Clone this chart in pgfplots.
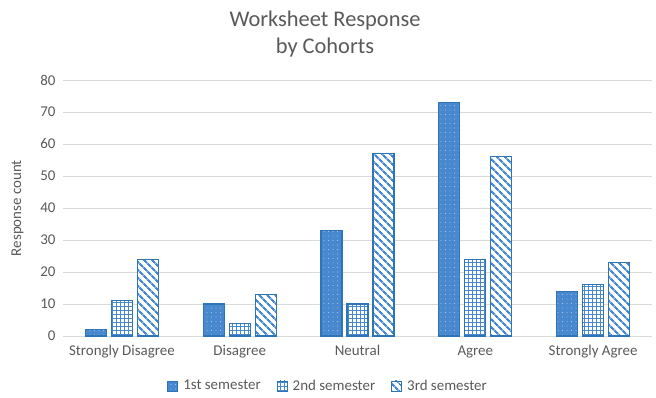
\documentclass[border=0pt]{standalone}
\usepackage{fontspec}
\setmainfont{Carlito}
\usepackage{pgfplots}
\pgfplotsset{compat=1.18}
\usetikzlibrary{patterns.meta}
\definecolor{barblue}{RGB}{72,136,206}
\definecolor{edgeblue}{RGB}{46,117,182}
\definecolor{txtgray}{RGB}{89,89,89}
\definecolor{gridgray}{RGB}{217,217,217}
\begin{document}
\begin{tikzpicture}
\useasboundingbox (-63bp,-62bp) rectangle (593bp,336bp);
\begin{axis}[
  at={(0,0)}, anchor=south west,
  scale only axis,
  width=589bp, height=256bp,
  ybar=5bp, bar width=21bp,
  ymin=0, ymax=80, ytick={0,10,...,80},
  xmin=-0.5, xmax=4.5,
  xtick={0,1,2,3,4},
  xticklabels={Strongly Disagree,Disagree,Neutral,Agree,Strongly Agree},
  ymajorgrids, grid style={gridgray, line width=0.8bp},
  axis line style={gridgray, line width=0.8bp},
  axis x line*=bottom, axis y line*=left,
  y axis line style={draw=none},
  major tick length=0pt,
  /pgf/number format/assume math mode=true,
  tick label style={font=\fontsize{15}{17}\selectfont, text=txtgray},
  yticklabel style={xshift=-4bp},
  xticklabel style={yshift=-6bp},
  ylabel={Response count},
  ylabel style={at={(axis description cs:-0.077,0.5)}, anchor=center, font=\fontsize{15}{17}\selectfont, text=txtgray},
  legend style={at={(axis description cs:0.45,-0.195)}, anchor=center, draw=none, fill=none,
    font=\fontsize{15}{17}\selectfont, text=txtgray, legend columns=3,
    /tikz/every even column/.append style={column sep=14bp}},
  legend image code/.code={\draw[#1, line width=0.8bp] (0bp,-5bp) rectangle (10bp,5bp); \path (13bp,0bp);},
]
\addplot[draw=edgeblue, line width=1.2bp, fill=barblue,
  postaction={pattern={Dots[distance=4.5bp, radius=0.45bp]}, pattern color=white!85!barblue}]
  coordinates {(0,2) (1,10) (2,33) (3,73) (4,14)};
\addplot[draw=edgeblue, line width=1.2bp, fill=white,
  postaction={pattern={Lines[angle=0, distance=4bp, line width=0.9bp]}, pattern color=barblue},
  postaction={pattern={Lines[angle=90, distance=4bp, line width=0.9bp]}, pattern color=barblue}]
  coordinates {(0,11) (1,4) (2,10) (3,24) (4,16)};
\addplot[draw=edgeblue, line width=1.2bp, fill=white,
  postaction={pattern={Lines[angle=-45, distance=6bp, line width=2.4bp]}, pattern color=barblue}]
  coordinates {(0,24) (1,13) (2,57) (3,56) (4,23)};
\legend{1st semester,2nd semester,3rd semester}
\end{axis}
\node[align=center, text=txtgray, font=\fontsize{22.5}{27}\selectfont] at (262bp,302bp) {Worksheet Response\\by Cohorts};
\end{tikzpicture}
\end{document}
